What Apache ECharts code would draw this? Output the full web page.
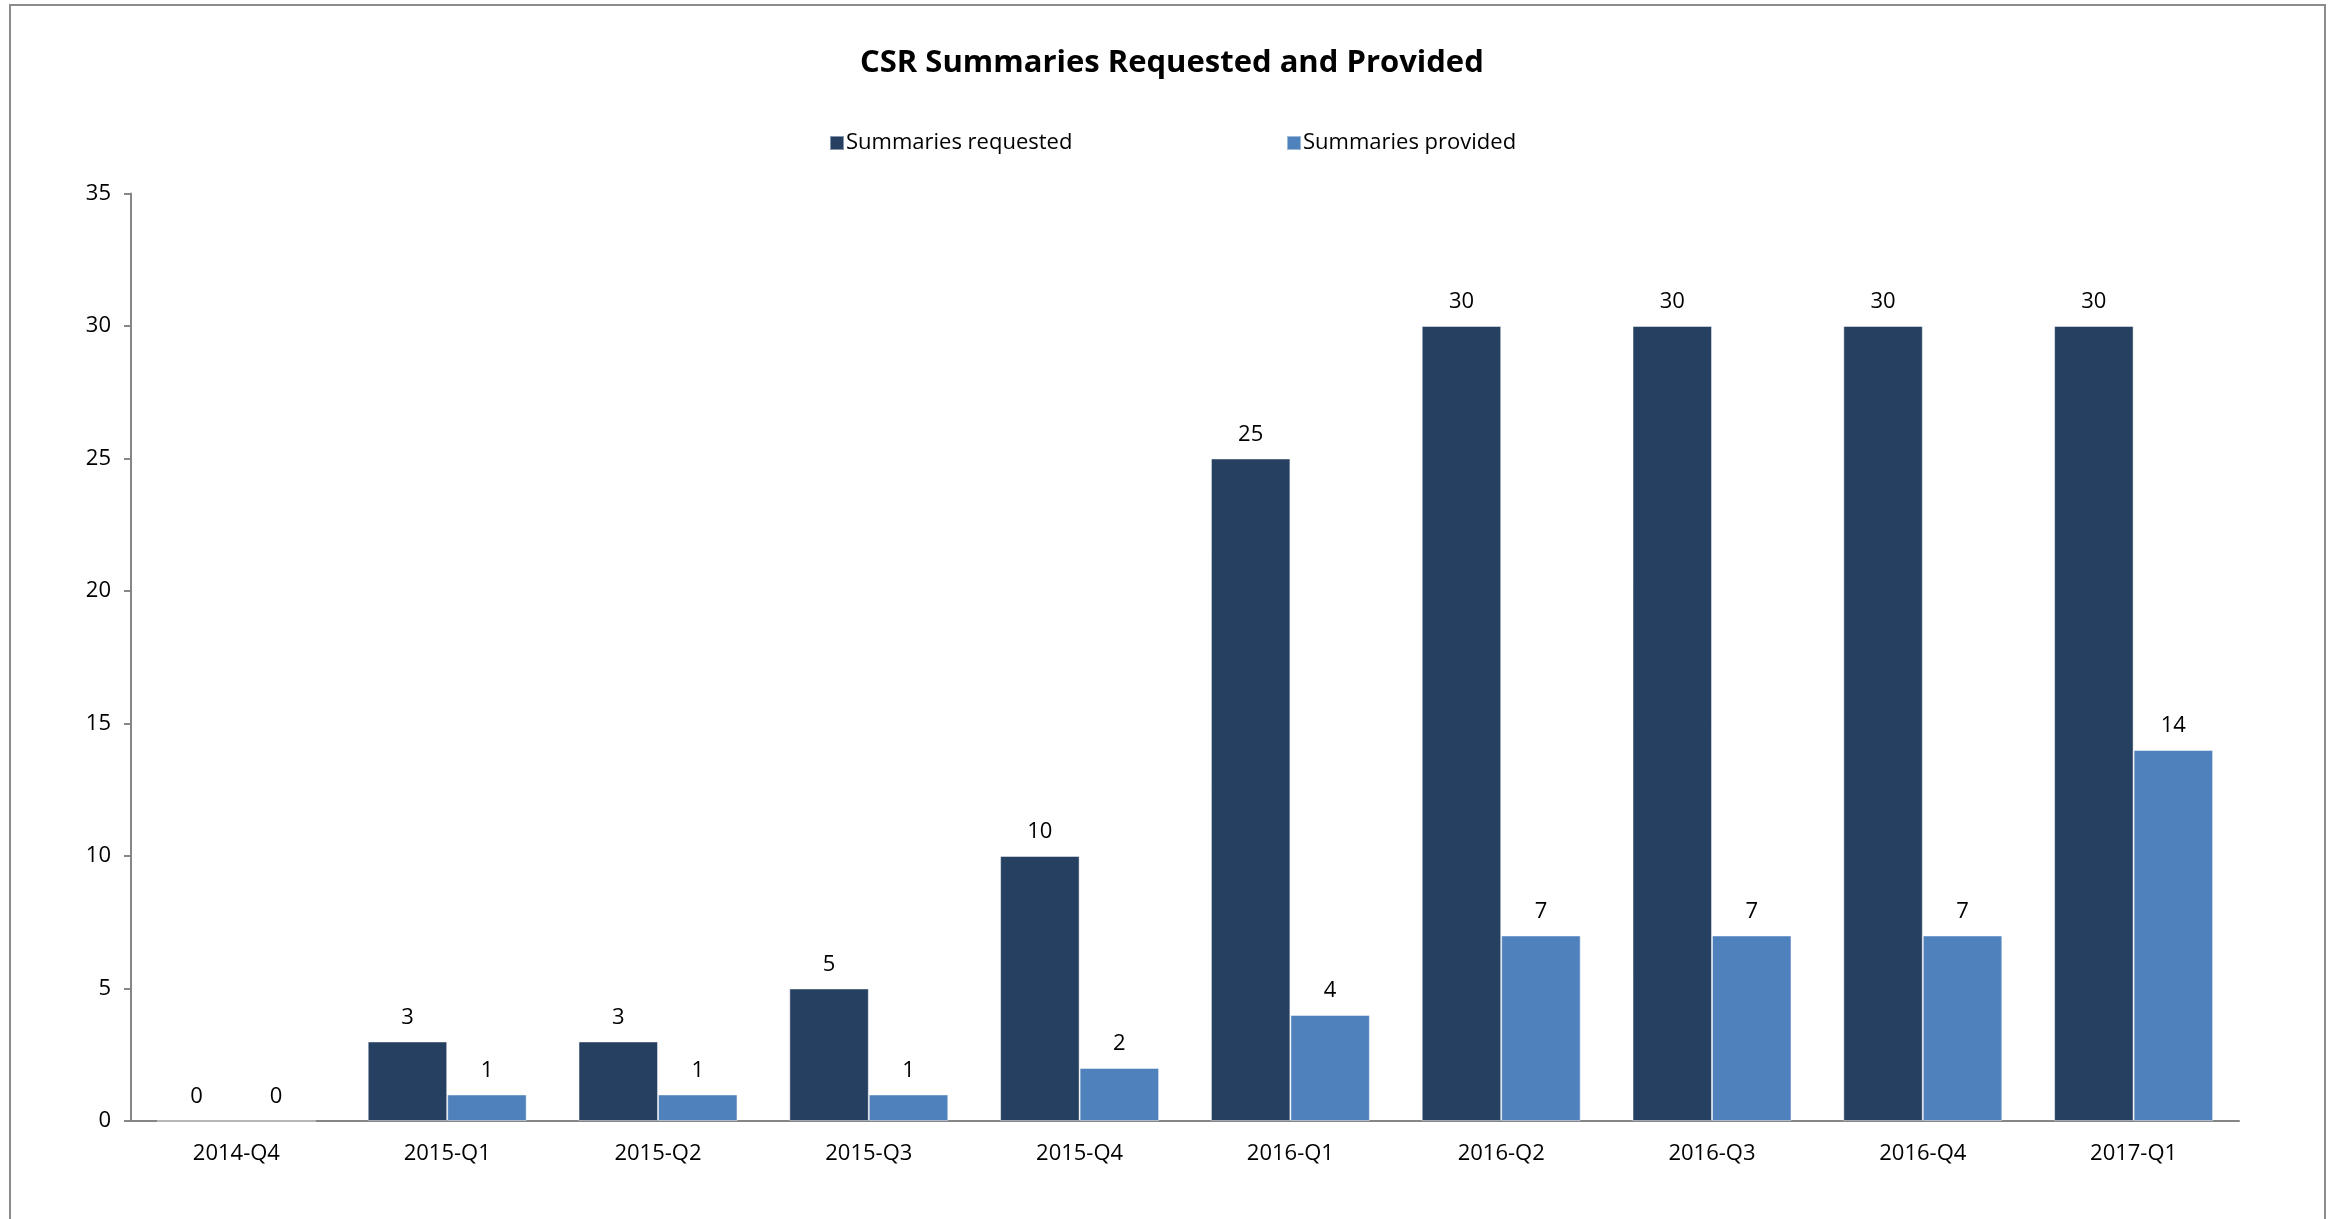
<!DOCTYPE html>
<html>
<head>
	<meta charset="utf-8">
	<title>CSR Summaries Requested and Provided</title>
	<script src="https://cdn.jsdelivr.net/npm/echarts@6/dist/echarts.min.js"></script>
	<style>
		html, body { margin: 0; padding: 0; background: #fff; }
		#chart { width: 2334px; height: 1219px; }
	</style>
</head>
<body>
<div id="chart"></div>
<script>
	var quarters = ['2014-Q4', '2015-Q1', '2015-Q2', '2015-Q3', '2015-Q4', '2016-Q1', '2016-Q2', '2016-Q3', '2016-Q4', '2017-Q1'];
	var requested = [0, 3, 3, 5, 10, 25, 30, 30, 30, 30];
	var provided = [0, 1, 1, 1, 2, 4, 7, 7, 7, 14];

	var font = 'Open Sans';
	var chart = echarts.init(document.getElementById('chart'));

	var label = {
		show: true,
		position: 'top',
		distance: 13,
		color: '#000',
		fontFamily: font,
		fontSize: 22
	};

	chart.setOption({
		animation: false,
		graphic: [{
			type: 'rect',
			shape: { x: 10, y: 5, width: 2315, height: 1300 },
			style: { fill: 'none', stroke: '#8c8c8c', lineWidth: 2 }
		}],
		title: {
			text: 'CSR Summaries Requested and Provided',
			left: 860,
			top: 48,
			padding: 0,
			textStyle: { fontFamily: font, fontWeight: 'bold', fontSize: 31, color: '#000' }
		},
		legend: [{
			data: ['Summaries requested'],
			left: 829,
			top: 132,
			padding: 0,
			itemWidth: 14,
			itemHeight: 14,
			icon: 'rect',
			textStyle: { fontFamily: font, fontSize: 22, color: '#000', padding: [0, 0, 0, -3] }
		}, {
			data: ['Summaries provided'],
			left: 1286,
			top: 132,
			padding: 0,
			itemWidth: 14,
			itemHeight: 14,
			icon: 'rect',
			textStyle: { fontFamily: font, fontSize: 22, color: '#000', padding: [0, 0, 0, -3] }
		}],
		grid: { left: 131, right: 95, top: 193.5, bottom: 98 },
		xAxis: {
			type: 'category',
			data: quarters,
			axisLine: { lineStyle: { color: '#868686', width: 2 } },
			axisTick: { show: false },
			axisLabel: { color: '#000', fontFamily: font, fontSize: 22, margin: 22 }
		},
		yAxis: {
			type: 'value',
			min: 0,
			max: 35,
			interval: 5,
			splitLine: { show: false },
			axisLine: { show: true, lineStyle: { color: '#868686', width: 2 } },
			axisTick: { show: true, length: 7, lineStyle: { color: '#868686', width: 2 } },
			axisLabel: { color: '#000', fontFamily: font, fontSize: 22, margin: 20 }
		},
		series: [{
			name: 'Summaries requested',
			type: 'bar',
			data: requested,
			barGap: '0%',
			barCategoryGap: '24.6%',
			itemStyle: { color: '#264061', borderColor: 'rgba(255,255,255,0.45)', borderWidth: 1 },
			label: label
		}, {
			name: 'Summaries provided',
			type: 'bar',
			data: provided,
			itemStyle: { color: '#4f81bd', borderColor: 'rgba(255,255,255,0.45)', borderWidth: 1 },
			label: label
		}]
	});
</script>
</body>
</html>
